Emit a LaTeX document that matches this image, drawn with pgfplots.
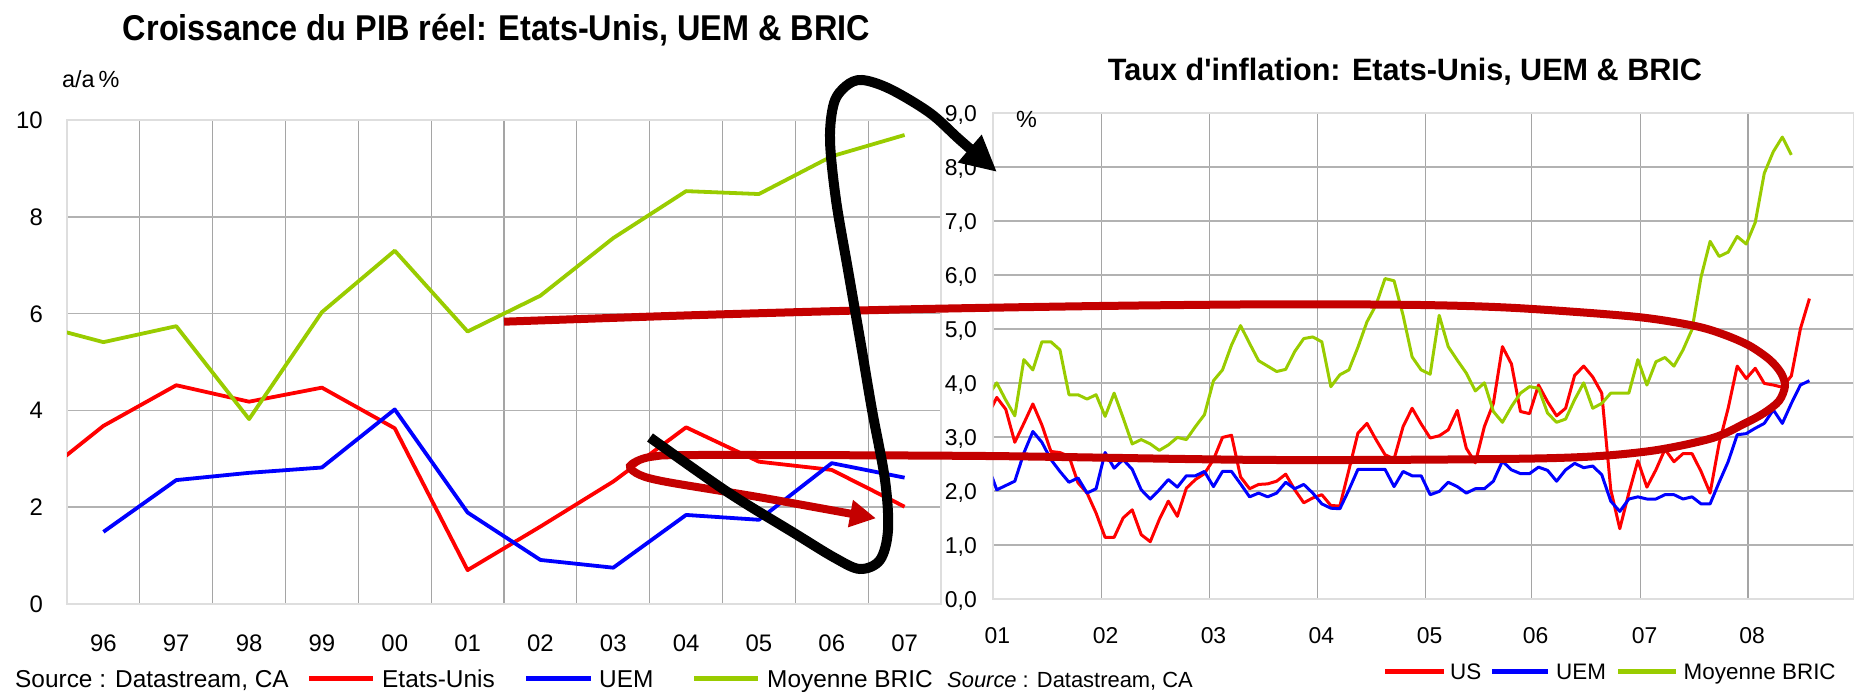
\documentclass[border=0pt]{standalone}
\usepackage{fontspec}
\setmainfont{Liberation Sans}
\usepackage{graphicx}
\usepackage{pgfplots}
\usepackage{pgfplotstable}
\pgfplotsset{compat=1.18}
\usetikzlibrary{arrows.meta}
\definecolor{cRed}{RGB}{255,0,0}
\definecolor{cBlue}{RGB}{0,0,255}
\definecolor{cGreen}{RGB}{153,204,0}
\definecolor{annRed}{RGB}{196,0,0}
\definecolor{gridv}{RGB}{165,165,165}
\definecolor{gridh}{RGB}{178,178,178}
\definecolor{framec}{RGB}{222,222,222}

\pgfplotstableread{
yr us uem bric
95 2.48 nan 5.81
96 3.68 1.49 5.41
97 4.52 2.56 5.74
98 4.18 2.71 3.82
99 4.47 2.82 6.03
100 3.63 4.02 7.30
101 0.70 1.89 5.63
102 1.60 0.91 6.37
103 2.53 0.75 7.56
104 3.65 1.84 8.53
105 2.94 1.74 8.47
106 2.77 2.91 9.25
107 2.01 2.61 9.69
}\gdp

\pgfplotstableread{
m us uem bric
0 3.40 2.49 3.76
1 3.74 2.03 4.01
2 3.52 2.11 3.69
3 2.91 2.19 3.40
4 3.26 2.71 4.44
5 3.62 3.11 4.25
6 3.23 2.91 4.77
7 2.74 2.59 4.77
8 2.72 2.37 4.62
9 2.65 2.17 3.79
10 2.16 2.25 3.79
11 1.97 1.97 3.71
12 1.60 2.05 3.79
13 1.15 2.72 3.39
14 1.15 2.43 3.82
15 1.51 2.59 3.36
16 1.66 2.41 2.88
17 1.20 2.03 2.96
18 1.07 1.86 2.88
19 1.48 2.03 2.76
20 1.82 2.22 2.86
21 1.54 2.08 3.00
22 2.06 2.29 2.96
23 2.22 2.29 3.20
24 2.33 2.37 3.42
25 2.59 2.09 4.05
26 3.00 2.37 4.25
27 3.04 2.37 4.71
28 2.27 2.14 5.07
29 2.05 1.90 4.74
30 2.13 1.97 4.42
31 2.14 1.90 4.32
32 2.19 1.97 4.22
33 2.32 2.17 4.26
34 2.03 2.05 4.59
35 1.79 2.13 4.83
36 1.88 1.97 4.86
37 1.94 1.77 4.77
38 1.74 1.69 3.94
39 1.73 1.68 4.16
40 2.40 2.03 4.25
41 3.08 2.41 4.67
42 3.26 2.41 5.14
43 2.96 2.41 5.45
44 2.68 2.41 5.94
45 2.60 2.09 5.90
46 3.20 2.37 5.26
47 3.54 2.29 4.49
48 3.25 2.29 4.25
49 2.99 1.94 4.17
50 3.03 2.00 5.26
51 3.14 2.17 4.68
52 3.50 2.09 4.43
53 2.80 1.97 4.19
54 2.53 2.05 3.86
55 3.20 2.05 4.01
56 3.63 2.19 3.48
57 4.68 2.56 3.28
58 4.36 2.40 3.57
59 3.48 2.33 3.82
60 3.44 2.33 3.94
61 3.97 2.45 3.91
62 3.66 2.39 3.45
63 3.40 2.19 3.28
64 3.54 2.40 3.34
65 4.15 2.52 3.70
66 4.32 2.44 4.01
67 4.12 2.47 3.54
68 3.82 2.31 3.63
69 2.03 1.82 3.82
70 1.31 1.63 3.82
71 1.97 1.86 3.82
72 2.57 1.90 4.44
73 2.08 1.86 3.97
74 2.40 1.86 4.40
75 2.78 1.94 4.48
76 2.55 1.94 4.32
77 2.70 1.86 4.62
78 2.70 1.90 5.00
79 2.37 1.77 5.97
80 1.97 1.77 6.63
81 2.89 2.17 6.35
82 3.54 2.55 6.43
83 4.32 3.05 6.72
84 4.09 3.07 6.58
85 4.28 3.17 6.98
86 4.00 3.26 7.89
87 3.97 3.51 8.29
88 3.93 3.26 8.56
89 4.14 3.63 8.23
90 5.01 3.97 nan
91 5.57 4.05 nan
}\infl

\begin{document}
\begin{tikzpicture}[x=1bp,y=1bp]
\useasboundingbox (0,0) rectangle (1854,696);

% ---------------- left chart ----------------
\begin{axis}[
  at={(67bp,92bp)}, anchor=south west,
  scale only axis, width=874bp, height=484bp,
  xmin=95.5, xmax=107.5, ymin=0, ymax=10,
  xtick={96,...,107},
  xticklabels={96,97,98,99,00,01,02,03,04,05,06,07},
  minor xtick={96.5,97.5,...,106.5},
  xminorgrids,
  ytick={0,2,4,6,8,10},
  yticklabels={0,2,4,6,8,10},
  ymajorgrids,
  major grid style={gridh, line width=1.5bp},
  minor grid style={gridv, line width=1.2bp},
  major tick length=0pt, minor tick length=0pt,
  axis line style={framec, line width=1.5bp},
  tick label style={font=\fontsize{24}{28}\selectfont, inner sep=0pt},
  xticklabel style={anchor=base, yshift=-47.7bp},
  yticklabel style={anchor=base east, xshift=-24bp, yshift=-8.6bp},
  /pgf/number format/assume math mode=true,
]
\addplot[cRed, line width=3.8bp, line join=round] table[x=yr,y=us]{\gdp};
\addplot[cBlue, line width=3.8bp, line join=round] table[x=yr,y=uem]{\gdp};
\addplot[cGreen, line width=3.8bp, line join=round] table[x=yr,y=bric]{\gdp};
\end{axis}

% ---------------- right chart ----------------
\begin{axis}[
  at={(993.3bp,96.5bp)}, anchor=south west,
  scale only axis, width=860.7bp, height=486.2bp,
  xmin=0.62, xmax=95.94, ymin=0, ymax=9,
  xtick={0.62,12.62,24.56,36.5,48.5,60.24,72.3,84.2},
  xticklabels={01,02,03,04,05,06,07,08},
  xmajorgrids,
  ytick={0,1,...,9},
  yticklabels={{0,0},{1,0},{2,0},{3,0},{4,0},{5,0},{6,0},{7,0},{8,0},{9,0}},
  ymajorgrids,
  x grid style={gridv, line width=1.2bp},
  y grid style={gridh, line width=2bp},
  major tick length=0pt,
  axis line style={framec, line width=2bp},
  tick label style={font=\fontsize{23}{27}\selectfont, inner sep=0pt},
  xticklabel style={anchor=base, xshift=4bp, yshift=-43.8bp},
  yticklabel style={anchor=base east, xshift=-16.3bp, yshift=-8.2bp},
  /pgf/number format/assume math mode=true,
]
\addplot[cRed, line width=3bp, line join=round] table[x=m,y=us]{\infl};
\addplot[cBlue, line width=3bp, line join=round] table[x=m,y=uem]{\infl};
\addplot[cGreen, line width=3bp, line join=round] table[x=m,y=bric]{\infl};
\end{axis}

% ---------------- titles and texts (y measured from top) ----------------
\begin{scope}[shift={(0,696)}, yscale=-1]
\node[anchor=base, inner sep=0pt] at (496.5,40.7)
  {\resizebox{747bp}{\height}{\fontsize{36}{40}\selectfont\bfseries Croissance du PIB réel: Etats-Unis, UEM \& BRIC}};
\node[anchor=base, inner sep=0pt] at (1405,80.7)
  {\resizebox{594bp}{\height}{\fontsize{31}{35}\selectfont\bfseries Taux d\textquotesingle inflation: Etats-Unis, UEM \& BRIC}};
\node[anchor=base west, inner sep=0pt, font=\fontsize{23.5}{27}\selectfont] at (62,88) {a/a\,\%};
\node[anchor=base west, inner sep=0pt, font=\fontsize{23.5}{27}\selectfont] at (1016,128) {\%};

% left legend
\node[anchor=base west, inner sep=0pt, font=\fontsize{24.5}{28}\selectfont] at (15,688) {Source : Datastream, CA};
\draw[cRed, line width=5bp] (309,678.3) -- (373,678.3);
\node[anchor=base west, inner sep=0pt, font=\fontsize{24.5}{28}\selectfont] at (382,688) {Etats-Unis};
\draw[cBlue, line width=5bp] (526,678.3) -- (591,678.3);
\node[anchor=base west, inner sep=0pt, font=\fontsize{24.5}{28}\selectfont] at (599,688) {UEM};
\draw[cGreen, line width=5bp] (694,678.3) -- (758,678.3);
\node[anchor=base west, inner sep=0pt, font=\fontsize{24.5}{28}\selectfont] at (767,688) {Moyenne BRIC};

% right legend
\node[anchor=base west, inner sep=0pt, font=\fontsize{22}{26}\selectfont] at (947,688) {\textit{Source} : Datastream, CA};
\draw[cRed, line width=5bp] (1385,671.7) -- (1444,671.7);
\node[anchor=base west, inner sep=0pt, font=\fontsize{22.5}{26}\selectfont] at (1450,680) {US};
\draw[cBlue, line width=5bp] (1492,671.7) -- (1548,671.7);
\node[anchor=base west, inner sep=0pt, font=\fontsize{22.5}{26}\selectfont] at (1556,680) {UEM};
\draw[cGreen, line width=5bp] (1618,671.7) -- (1676,671.7);
\node[anchor=base west, inner sep=0pt, font=\fontsize{22.5}{26}\selectfont] at (1683.5,680) {Moyenne BRIC};

% annotations
\draw[annRed, line width=8bp, -{Triangle[length=26bp,width=26bp]}]
  plot[smooth, tension=0.5] coordinates {(504,321.7) (700,315) (900,309.5) (1100,306) (1277,304.3) (1420,305) (1515.6,308) (1634.7,316.7) (1695,326) (1725,335) (1750,346) (1770,360) (1781,373) (1785,386) (1779,401) (1764,413) (1745,423.3) (1711.7,438.3) (1645,451.7) (1545,458.3) (1275,460) (985,456) (700,455) (650,457) (630,466) (640,475) (667,482) (758,497) (848.5,513.3) (876,518.3)};
\draw[black, line width=10bp, -{Triangle[length=36bp,width=34bp]}]
  plot[smooth, tension=0.55] coordinates {(650,437.5) (727,491.7) (794,533) (835,558) (860,569) (880,560) (888,530) (885,480) (872,410) (861,345) (848,270) (836,200) (830,140) (834,103) (846,86) (862,80) (890,89) (930,113) (960,140) (997,172)};
\end{scope}
\end{tikzpicture}
\end{document}
